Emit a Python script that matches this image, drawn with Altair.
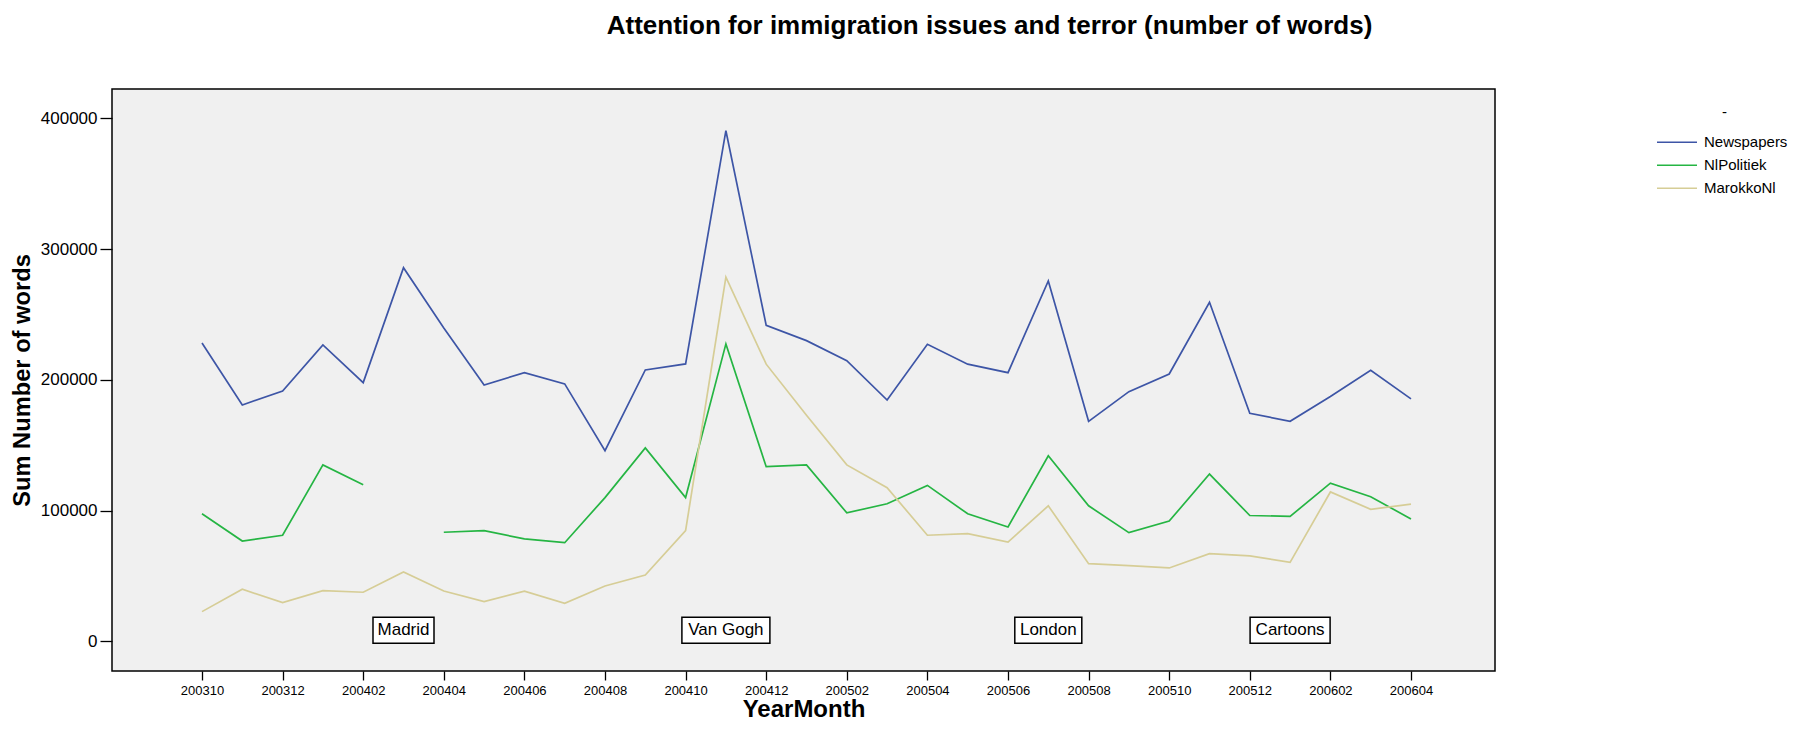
import altair as alt
import pandas as pd

months = ["200310", "200311", "200312", "200401", "200402", "200403", "200404",
          "200405", "200406", "200407", "200408", "200409", "200410", "200411",
          "200412", "200501", "200502", "200503", "200504", "200505", "200506",
          "200507", "200508", "200509", "200510", "200511", "200512", "200601",
          "200602", "200603", "200604"]

newspapers = [228200, 180800, 191500, 226700, 197900, 285800, 239700, 196000,
              205500, 196900, 145900, 207600, 212200, 390500, 241700, 230000,
              214700, 184600, 227200, 212000, 205500, 275600, 168300, 191000,
              204500, 259300, 174500, 168300, 187300, 207300, 185500]

nlpolitiek = [97600, 76800, 81200, 135000, 119800, None, 83500, 84700,
              78400, 75500, 110000, 148000, 110000, 227500, 133600, 135000,
              98300, 105300, 119300, 97600, 87500, 142000, 103700, 83200,
              92000, 128000, 96300, 95600, 121000, 110700, 93600]

marokkonl = [22800, 39900, 29700, 38800, 37600, 53100, 38600, 30400,
             38400, 29200, 42400, 50800, 84700, 278600, 212000, 173000,
             135000, 117600, 81200, 82400, 76000, 103700, 59500, 58000,
             56200, 67100, 65400, 60500, 114300, 101000, 105000]

series_names = ["Newspapers", "NlPolitiek", "MarokkoNl"]
series_colors = ["#3d55a6", "#25b543", "#d6cd96"]

events = ["Madrid", "Van Gogh", "London", "Cartoons"]
event_months = ["200403", "200411", "200507", "200601"]
event_level = 8500
event_box_widths = [61, 88, 67, 80]
event_box_height = 26

x_tick_values = months[::2]
y_tick_values = [0, 100000, 200000, 300000, 400000]

plot_w = 1383
plot_h = 582
step = 40.3
first_x = 90
x_range = [first_x, first_x + step * (len(months) - 1)]

rows = []
for name, vals in zip(series_names, [newspapers, nlpolitiek, marokkonl]):
    seg = 0
    for m, v in zip(months, vals):
        if v is None:
            seg += 1
            continue
        rows.append({"month": m, "value": v, "series": name, "seg": f"{name}-{seg}"})
df = pd.DataFrame(rows)

shapes = []
sizes = []
for w in event_box_widths:
    r = event_box_height / w
    shapes.append(f"M-1,-{r:.4f}L1,-{r:.4f}L1,{r:.4f}L-1,{r:.4f}Z")
    sizes.append(w * w)
ev = pd.DataFrame({"month": event_months, "label": events,
                   "value": [event_level] * len(events),
                   "shape": shapes, "size": sizes})

x_enc = alt.X("month:N",
              scale=alt.Scale(type="point", domain=months, range=x_range, padding=0),
              axis=alt.Axis(values=x_tick_values, labelAngle=0, labelFontSize=13,
                            labelColor="black", tickColor="black", tickSize=9,
                            tickWidth=1.3, labelPadding=4, domain=False, grid=False,
                            title="YearMonth", titleFontSize=24, titleFontWeight="bold",
                            titleColor="black", titleX=plot_w / 2, titleY=45,
                            titleBaseline="alphabetic", titleAlign="center"))
y_enc = alt.Y("value:Q",
              scale=alt.Scale(domain=[-22600, 422400], nice=False, zero=False),
              axis=alt.Axis(values=y_tick_values, format="d", labelFontSize=17,
                            labelColor="black", tickColor="black", tickSize=12,
                            tickWidth=1.3, labelPadding=3, domain=False, grid=False,
                            title="Sum Number of words", titleFontSize=23.7,
                            titleFontWeight="bold", titleColor="black",
                            titleX=-83, titleY=plot_h / 2, titleAngle=270,
                            titleBaseline="alphabetic", titleAlign="center"))

lines = alt.Chart(df).mark_line(strokeWidth=1.7).encode(
    x=x_enc,
    y=y_enc,
    color=alt.Color("series:N",
                    scale=alt.Scale(domain=series_names, range=series_colors),
                    legend=alt.Legend(title="-", orient="none", legendX=1544, legendY=16,
                                      symbolType="stroke", symbolSize=1600,
                                      symbolStrokeWidth=1.7, clipHeight=20.5,
                                      rowPadding=2,
                                      labelFontSize=15, labelColor="black",
                                      labelOffset=6, titleFontSize=15,
                                      titleFontWeight="normal", titleColor="black",
                                      titleAnchor="middle", titleAlign="left",
                                      titlePadding=12)),
    detail="seg:N",
)

boxes = alt.Chart(ev).mark_point(filled=True, fill="white", stroke="black",
                                 strokeWidth=1.5, opacity=1).encode(
    x=alt.X("month:N"),
    y=alt.Y("value:Q"),
    shape=alt.Shape("shape:N", scale=None),
    size=alt.Size("size:Q", scale=None),
)

labels = alt.Chart(ev).mark_text(fontSize=17, color="black", baseline="middle",
                                 align="center").encode(
    x=alt.X("month:N"),
    y=alt.Y("value:Q"),
    text="label:N",
)

chart = alt.layer(lines, boxes, labels).properties(
    width=plot_w,
    height=plot_h,
    autosize=alt.AutoSizeParams(type="none"),
    padding={"left": 104, "top": 81, "right": 301, "bottom": 52},
    title=alt.Title("Attention for immigration issues and terror (number of words)",
                    fontSize=26, fontWeight="bold", color="black", anchor="middle",
                    frame="group", dx=186, offset=29, baseline="alphabetic"),
).configure(font="Liberation Sans").configure_view(
    fill="#f0f0f0", stroke="black", strokeWidth=1.5
)

chart.save("out.html", embed_options={"renderer": "svg", "actions": False})
